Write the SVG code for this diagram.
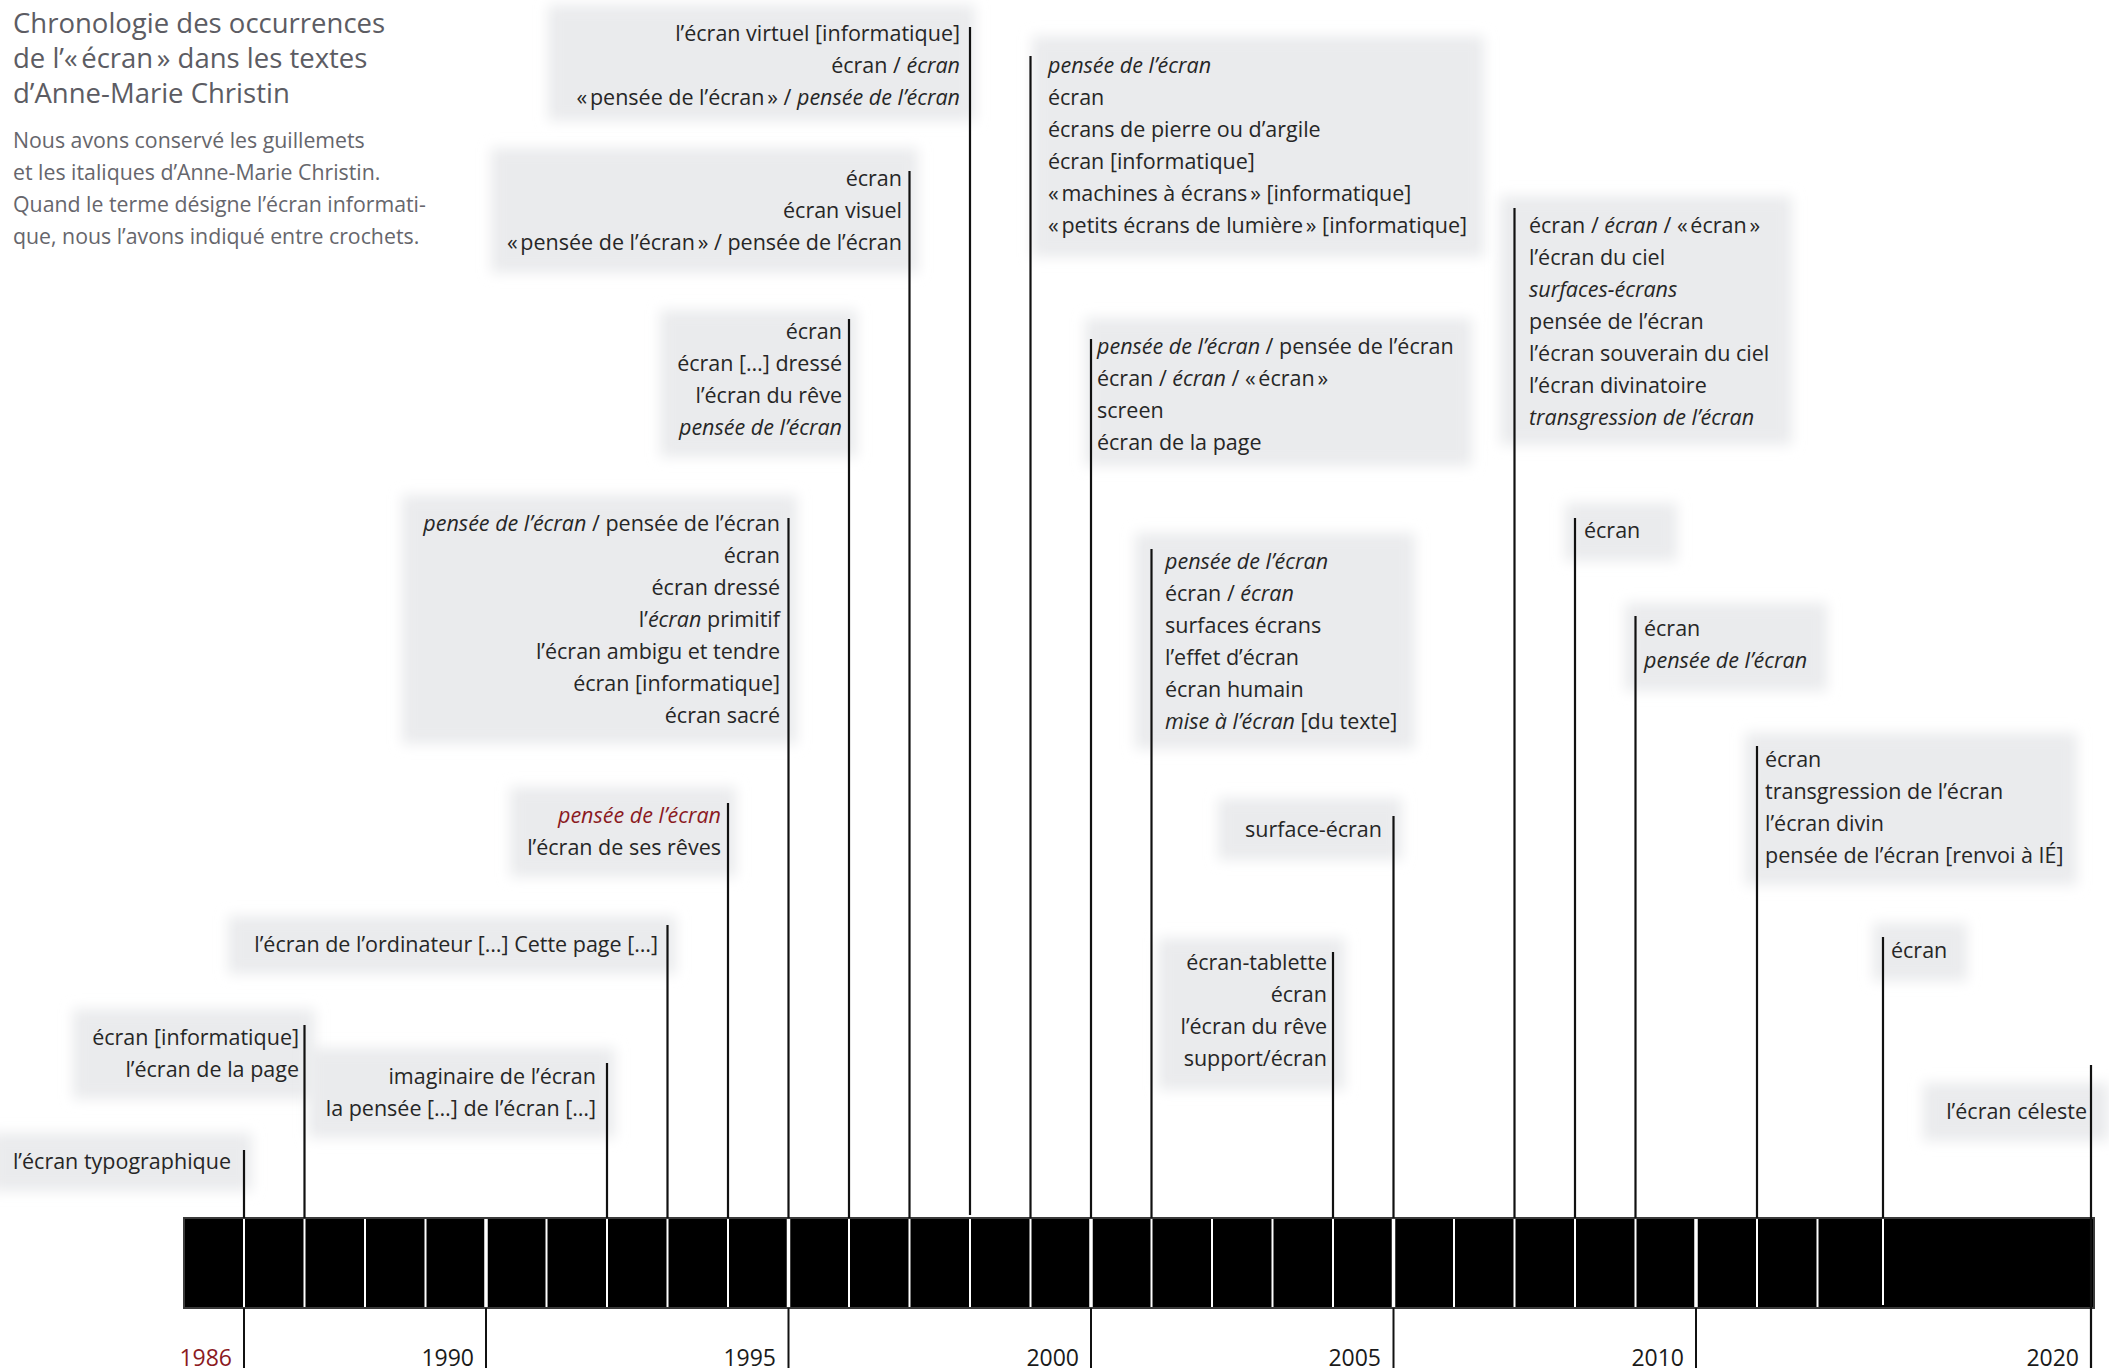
<svg xmlns="http://www.w3.org/2000/svg" width="2109" height="1370" viewBox="0 0 2109 1370">
<defs>
<filter id="soft" x="-30%" y="-40%" width="160%" height="180%"><feGaussianBlur stdDeviation="6.5"/></filter>
<style>
.bg{fill:#eaebed;filter:url(#soft)}
.t{font-family:"Open Sans","Liberation Sans",sans-serif;font-size:21.5px;fill:#262626}
.r{text-anchor:end}
.i{font-style:italic}
.t.red,.yr.red{fill:#8b1a1f}
.title{font-family:"Open Sans","Liberation Sans",sans-serif;font-size:27.5px;fill:#5c5c63}
.sub{font-family:"Open Sans","Liberation Sans",sans-serif;font-size:21.3px;fill:#66666c}
.yr{font-family:"Open Sans","Liberation Sans",sans-serif;font-size:23px;fill:#1a1a1a;text-anchor:end}
.ev{stroke:#111;stroke-width:2.2;fill:none}
.tk{stroke:#111;stroke-width:2;fill:none}
.wt{stroke:#fff;stroke-width:2;fill:none}
.wt5{stroke:#fff;stroke-width:3.5;fill:none}
</style>
</defs>
<rect width="2109" height="1370" fill="#fff"/>

<g id="title">
<text class="title" x="13" y="33">Chronologie des occurrences</text>
<text class="title" x="13" y="68">de l’«&#8239;écran&#8239;» dans les textes</text>
<text class="title" x="13" y="103">d’Anne-Marie Christin</text>
<text class="sub" x="13" y="148">Nous avons conservé les guillemets</text>
<text class="sub" x="13" y="180">et les italiques d’Anne-Marie Christin.</text>
<text class="sub" x="13" y="212">Quand le terme désigne l’écran informati-</text>
<text class="sub" x="13" y="244">que, nous l’avons indiqué entre crochets.</text>
</g>

<g id="node-1986">
<rect class="bg" x="-10" y="1133" width="262" height="58"/>
<text class="t r" x="231" y="1169">l’écran typographique</text>
</g>
<g id="node-1987">
<rect class="bg" x="73" y="1009" width="242" height="90"/>
<text class="t r" x="299" y="1045">écran [informatique]</text>
<text class="t r" x="299" y="1077">l’écran de la page</text>
</g>
<g id="node-1992">
<rect class="bg" x="308" y="1048" width="307" height="90"/>
<text class="t r" x="596" y="1084">imaginaire de l’écran</text>
<text class="t r" x="596" y="1116">la pensée […] de l’écran […]</text>
</g>
<g id="node-1993">
<rect class="bg" x="228" y="916" width="448" height="58"/>
<text class="t r" x="658" y="952">l’écran de l’ordinateur […] Cette page  […]</text>
</g>
<g id="node-1994">
<rect class="bg" x="510" y="787" width="226" height="90"/>
<text class="t r i red" x="721" y="823">pensée de l’écran</text>
<text class="t r" x="721" y="855">l’écran de ses rêves</text>
</g>
<g id="node-1995">
<rect class="bg" x="402" y="495" width="395" height="249"/>
<text class="t r" x="780" y="531"><tspan class="i">pensée de l’écran</tspan> / pensée de l’écran</text>
<text class="t r" x="780" y="563">écran</text>
<text class="t r" x="780" y="595">écran dressé</text>
<text class="t r" x="780" y="627">l’<tspan class="i">écran</tspan> primitif</text>
<text class="t r" x="780" y="659">l’écran ambigu et tendre</text>
<text class="t r" x="780" y="691">écran [informatique]</text>
<text class="t r" x="780" y="723">écran sacré</text>
</g>
<g id="node-1996">
<rect class="bg" x="660" y="310" width="197" height="147"/>
<text class="t r" x="842" y="339">écran</text>
<text class="t r" x="842" y="371">écran […] dressé</text>
<text class="t r" x="842" y="403">l’écran du rêve</text>
<text class="t r i" x="842" y="435">pensée de l’écran</text>
</g>
<g id="node-1997">
<rect class="bg" x="491" y="148" width="427" height="125"/>
<text class="t r" x="902" y="186">écran</text>
<text class="t r" x="902" y="218">écran visuel</text>
<text class="t r" x="902" y="250">«&#8239;pensée de l’écran&#8239;» / pensée de l’écran</text>
</g>
<g id="node-1998">
<rect class="bg" x="548" y="5" width="427" height="116"/>
<text class="t r" x="960" y="41">l’écran virtuel [informatique]</text>
<text class="t r" x="960" y="73">écran / <tspan class="i">écran</tspan></text>
<text class="t r" x="960" y="105">«&#8239;pensée de l’écran&#8239;» / <tspan class="i">pensée de l’écran</tspan></text>
</g>
<g id="node-1999">
<rect class="bg" x="1032" y="36" width="452" height="221"/>
<text class="t i" x="1048" y="73">pensée de l’écran</text>
<text class="t" x="1048" y="105">écran</text>
<text class="t" x="1048" y="137">écrans de pierre ou d’argile</text>
<text class="t" x="1048" y="169">écran [informatique]</text>
<text class="t" x="1048" y="201">«&#8239;machines à écrans&#8239;» [informatique]</text>
<text class="t" x="1048" y="233">«&#8239;petits écrans de lumière&#8239;» [informatique]</text>
</g>
<g id="node-2000">
<rect class="bg" x="1085" y="318" width="387" height="148"/>
<text class="t" x="1097" y="354"><tspan class="i">pensée de l’écran</tspan> / pensée de l’écran</text>
<text class="t" x="1097" y="386">écran / <tspan class="i">écran</tspan> / «&#8239;écran&#8239;»</text>
<text class="t" x="1097" y="418">screen</text>
<text class="t" x="1097" y="450">écran de la page</text>
</g>
<g id="node-2001">
<rect class="bg" x="1135" y="533" width="280" height="216"/>
<text class="t i" x="1165" y="569">pensée de l’écran</text>
<text class="t" x="1165" y="601">écran / <tspan class="i">écran</tspan></text>
<text class="t" x="1165" y="633">surfaces écrans</text>
<text class="t" x="1165" y="665">l’effet d’écran</text>
<text class="t" x="1165" y="697">écran humain</text>
<text class="t" x="1165" y="729"><tspan class="i">mise à l’écran</tspan> [du texte]</text>
</g>
<g id="node-2004">
<rect class="bg" x="1158" y="938" width="187" height="152"/>
<text class="t r" x="1327" y="970">écran-tablette</text>
<text class="t r" x="1327" y="1002">écran</text>
<text class="t r" x="1327" y="1034">l’écran du rêve</text>
<text class="t r" x="1327" y="1066">support/écran</text>
</g>
<g id="node-2005">
<rect class="bg" x="1218" y="798" width="184" height="62"/>
<text class="t r" x="1382" y="837">surface-écran</text>
</g>
<g id="node-2007">
<rect class="bg" x="1500" y="196" width="292" height="249"/>
<text class="t" x="1529" y="233">écran / <tspan class="i">écran</tspan> / «&#8239;écran&#8239;»</text>
<text class="t" x="1529" y="265">l’écran du ciel</text>
<text class="t i" x="1529" y="297">surfaces-écrans</text>
<text class="t" x="1529" y="329">pensée de l’écran</text>
<text class="t" x="1529" y="361">l’écran souverain du ciel</text>
<text class="t" x="1529" y="393">l’écran divinatoire</text>
<text class="t i" x="1529" y="425">transgression de l’écran</text>
</g>
<g id="node-2008">
<rect class="bg" x="1565" y="503" width="112" height="58"/>
<text class="t" x="1584" y="538">écran</text>
</g>
<g id="node-2009">
<rect class="bg" x="1625" y="603" width="202" height="88"/>
<text class="t" x="1644" y="636">écran</text>
<text class="t i" x="1644" y="668">pensée de l’écran</text>
</g>
<g id="node-2011">
<rect class="bg" x="1745" y="733" width="332" height="152"/>
<text class="t" x="1765" y="767">écran</text>
<text class="t" x="1765" y="799">transgression de l’écran</text>
<text class="t" x="1765" y="831">l’écran divin</text>
<text class="t" x="1765" y="863">pensée de l’écran [renvoi à IÉ]</text>
</g>
<g id="node-2013">
<rect class="bg" x="1873" y="923" width="94" height="58"/>
<text class="t" x="1891" y="958">écran</text>
</g>
<g id="node-2020">
<rect class="bg" x="1923" y="1083" width="186" height="58"/>
<text class="t r" x="2087" y="1119">l’écran céleste</text>
</g>

<g id="timeline">
<rect x="184" y="1218" width="1910" height="90" fill="#000" stroke="#3a3a3a" stroke-width="2"/>
<g class="wt">
<line x1="244" y1="1219" x2="244" y2="1307"/>
<line x1="304.5" y1="1219" x2="304.5" y2="1307"/>
<line x1="365" y1="1219" x2="365" y2="1307"/>
<line x1="425.5" y1="1219" x2="425.5" y2="1307"/>
<line x1="546.5" y1="1219" x2="546.5" y2="1307"/>
<line x1="607" y1="1219" x2="607" y2="1307"/>
<line x1="667.5" y1="1219" x2="667.5" y2="1307"/>
<line x1="728" y1="1219" x2="728" y2="1307"/>
<line x1="849" y1="1219" x2="849" y2="1307"/>
<line x1="909.5" y1="1219" x2="909.5" y2="1307"/>
<line x1="970" y1="1219" x2="970" y2="1307"/>
<line x1="1030.5" y1="1219" x2="1030.5" y2="1307"/>
<line x1="1151.5" y1="1219" x2="1151.5" y2="1307"/>
<line x1="1212" y1="1219" x2="1212" y2="1307"/>
<line x1="1272.5" y1="1219" x2="1272.5" y2="1307"/>
<line x1="1333" y1="1219" x2="1333" y2="1307"/>
<line x1="1454" y1="1219" x2="1454" y2="1307"/>
<line x1="1514.5" y1="1219" x2="1514.5" y2="1307"/>
<line x1="1575" y1="1219" x2="1575" y2="1307"/>
<line x1="1635.5" y1="1219" x2="1635.5" y2="1307"/>
<line x1="1757" y1="1219" x2="1757" y2="1307"/>
<line x1="1817.5" y1="1219" x2="1817.5" y2="1307"/>
<line x1="1883" y1="1219" x2="1883" y2="1305"/>
</g>
<g class="wt5">
<line x1="486" y1="1219" x2="486" y2="1307"/>
<line x1="788.5" y1="1219" x2="788.5" y2="1307"/>
<line x1="1091" y1="1219" x2="1091" y2="1307"/>
<line x1="1393.5" y1="1219" x2="1393.5" y2="1307"/>
<line x1="1696" y1="1219" x2="1696" y2="1307"/>
</g>
</g>

<g id="connectors">
<g class="ev">
<line x1="244" y1="1150" x2="244" y2="1218"/>
<line x1="304.5" y1="1025" x2="304.5" y2="1218"/>
<line x1="607" y1="1063" x2="607" y2="1218"/>
<line x1="667.5" y1="925" x2="667.5" y2="1218"/>
<line x1="728" y1="803" x2="728" y2="1218"/>
<line x1="788.5" y1="518" x2="788.5" y2="1218"/>
<line x1="849" y1="319" x2="849" y2="1218"/>
<line x1="909.5" y1="171" x2="909.5" y2="1218"/>
<line x1="970" y1="27" x2="970" y2="1215"/>
<line x1="1030.5" y1="56" x2="1030.5" y2="1218"/>
<line x1="1091" y1="339" x2="1091" y2="1218"/>
<line x1="1151.5" y1="549" x2="1151.5" y2="1218"/>
<line x1="1333" y1="952" x2="1333" y2="1218"/>
<line x1="1393.5" y1="816" x2="1393.5" y2="1218"/>
<line x1="1514.5" y1="208" x2="1514.5" y2="1218"/>
<line x1="1575" y1="518" x2="1575" y2="1218"/>
<line x1="1635.5" y1="616" x2="1635.5" y2="1218"/>
<line x1="1757" y1="746" x2="1757" y2="1218"/>
<line x1="1883" y1="937" x2="1883" y2="1218"/>
<line x1="2091" y1="1065" x2="2091" y2="1368"/>
</g>
<g class="tk">
<line x1="244" y1="1308" x2="244" y2="1368"/>
<line x1="486" y1="1308" x2="486" y2="1368"/>
<line x1="788.5" y1="1308" x2="788.5" y2="1368"/>
<line x1="1091" y1="1308" x2="1091" y2="1368"/>
<line x1="1393.5" y1="1308" x2="1393.5" y2="1368"/>
<line x1="1696" y1="1308" x2="1696" y2="1368"/>
</g>
</g>

<g id="years">
<text class="yr red" x="232" y="1366">1986</text>
<text class="yr" x="474" y="1366">1990</text>
<text class="yr" x="776" y="1366">1995</text>
<text class="yr" x="1079" y="1366">2000</text>
<text class="yr" x="1381" y="1366">2005</text>
<text class="yr" x="1684" y="1366">2010</text>
<text class="yr" x="2079" y="1366">2020</text>
</g>
</svg>
